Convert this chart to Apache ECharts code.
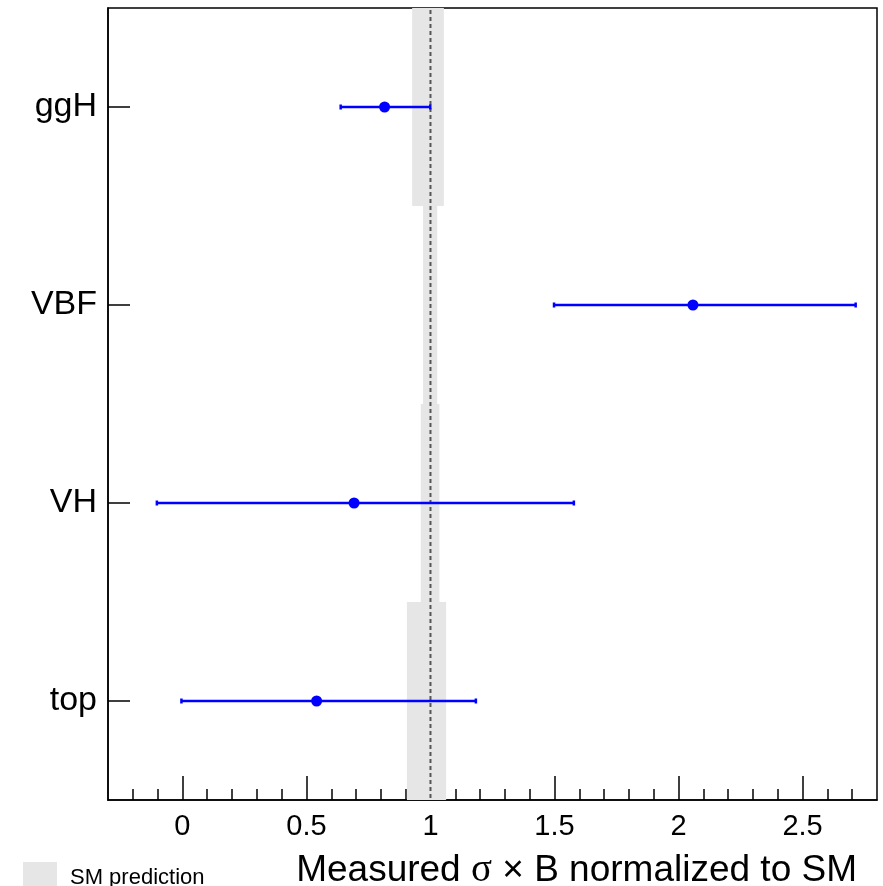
<!DOCTYPE html>
<html>
<head>
<meta charset="utf-8">
<script src="https://cdn.jsdelivr.net/npm/echarts@6/dist/echarts.min.js"></script>
<style>
  html, body { margin: 0; padding: 0; background: #fff; }
  #chart { width: 883px; height: 886px; }
</style>
</head>
<body>
<div id="chart"></div>
<script>
// production modes, top to bottom
const categories = ['ggH', 'VBF', 'VH', 'top']

// measured signal strength and its interval
const measured = [0.815, 2.058, 0.692, 0.541]
const errLow = [0.638, 1.498, -0.103, -0.004]
const errHigh = [0.999, 2.714, 1.578, 1.183]

// SM prediction uncertainty band
const smLow = [0.926, 0.970, 0.961, 0.905]
const smHigh = [1.054, 1.027, 1.036, 1.063]
const smValue = 1

// x axis ticks
const majorTicks = [0, 0.5, 1, 1.5, 2, 2.5]
const minorTicks = [-0.2, -0.1, 0.1, 0.2, 0.3, 0.4, 0.6, 0.7, 0.8, 0.9, 1.1, 1.2, 1.3, 1.4,
  1.6, 1.7, 1.8, 1.9, 2.1, 2.2, 2.3, 2.4, 2.6, 2.7]

const font = 'Liberation Sans, Arial, Helvetica, sans-serif'

const myChart = echarts.init(document.getElementById('chart'))

const xCommon = {
  type: 'value',
  min: -0.3,
  max: 2.8,
  position: 'bottom',
  splitLine: { show: false },
}

const option = {
  animation: false,
  backgroundColor: '#fff',
  title: {
    text: 'Measured {s|σ} × B normalized to SM',
    right: 21,
    top: 846,
    textStyle: {
      fontFamily: font,
      fontSize: 37,
      fontWeight: 'normal',
      color: '#000',
      rich: {
        s: { fontFamily: 'Liberation Serif, serif', fontSize: 39, color: '#000' },
      },
    },
  },
  legend: {
    left: 18,
    top: 857,
    itemWidth: 34,
    itemHeight: 32,
    icon: 'rect',
    data: ['SM prediction'],
    textStyle: { fontFamily: font, fontSize: 22, color: '#000', padding: [2, 0, 0, 8] },
  },
  grid: {
    left: 108,
    right: 6,
    top: 8,
    bottom: 86,
    show: true,
    borderColor: '#000',
    borderWidth: 1.5,
  },
  xAxis: [
    {
      ...xCommon,
      axisLine: { show: true, onZero: false, lineStyle: { color: '#000', width: 1.5 } },
      axisTick: {
        show: true,
        inside: true,
        length: 24,
        customValues: majorTicks,
        lineStyle: { color: '#000', width: 1.5 },
      },
      axisLabel: {
        customValues: majorTicks,
        fontFamily: font,
        fontSize: 29,
        color: '#000',
        margin: 12,
        formatter: v => String(v),
      },
    },
    {
      ...xCommon,
      axisLine: { show: false },
      axisTick: {
        show: true,
        inside: true,
        length: 11,
        customValues: minorTicks,
        lineStyle: { color: '#000', width: 1.5 },
      },
      axisLabel: { show: false },
    },
  ],
  yAxis: {
    type: 'category',
    data: categories,
    inverse: true,
    axisLine: { show: true, onZero: false, lineStyle: { color: '#000', width: 1.5 } },
    axisTick: {
      show: true,
      inside: true,
      alignWithLabel: true,
      length: 22,
      lineStyle: { color: '#000', width: 1.5 },
    },
    axisLabel: { fontFamily: font, fontSize: 34, color: '#000', margin: 11 },
    splitLine: { show: false },
  },
  series: [
    {
      name: 'SM prediction',
      type: 'custom',
      z: 1,
      itemStyle: { color: '#e6e6e6' },
      encode: { x: 0, y: 1 },
      data: categories.map((c, i) => [smLow[i], i, smHigh[i]]),
      renderItem: (params, api) => {
        const a = api.coord([api.value(0), api.value(1)])
        const b = api.coord([api.value(2), api.value(1)])
        const h = api.size([0, 1])[1]
        return {
          type: 'rect',
          shape: { x: a[0], y: a[1] - h / 2, width: b[0] - a[0], height: h },
          style: { fill: '#e6e6e6' },
        }
      },
    },
    {
      name: 'SM line',
      type: 'custom',
      z: 2,
      silent: true,
      encode: { x: 0, y: 1 },
      data: [[smValue, 0]],
      renderItem: (params, api) => {
        const x = api.coord([api.value(0), 0])[0]
        const cs = params.coordSys
        return {
          type: 'line',
          shape: { x1: x, y1: cs.y + 2, x2: x, y2: cs.y + cs.height },
          style: { stroke: '#555', lineWidth: 2, lineDash: [4, 3] },
        }
      },
    },
    {
      name: 'interval',
      type: 'custom',
      z: 3,
      encode: { x: 0, y: 1 },
      data: categories.map((c, i) => [errLow[i], i, errHigh[i]]),
      renderItem: (params, api) => {
        const a = api.coord([api.value(0), api.value(1)])
        const b = api.coord([api.value(2), api.value(1)])
        const style = { stroke: '#0000ff', lineWidth: 2.5 }
        return {
          type: 'group',
          children: [
            { type: 'line', shape: { x1: a[0], y1: a[1], x2: b[0], y2: b[1] }, style },
            { type: 'line', shape: { x1: a[0], y1: a[1] - 2.5, x2: a[0], y2: a[1] + 2.5 }, style },
            { type: 'line', shape: { x1: b[0], y1: b[1] - 2.5, x2: b[0], y2: b[1] + 2.5 }, style },
          ],
        }
      },
    },
    {
      name: 'measured',
      type: 'scatter',
      z: 4,
      symbol: 'circle',
      symbolSize: 11,
      itemStyle: { color: '#0000ff', opacity: 1 },
      data: categories.map((c, i) => [measured[i], i]),
    },
  ],
}

myChart.setOption(option)
</script>
</body>
</html>
